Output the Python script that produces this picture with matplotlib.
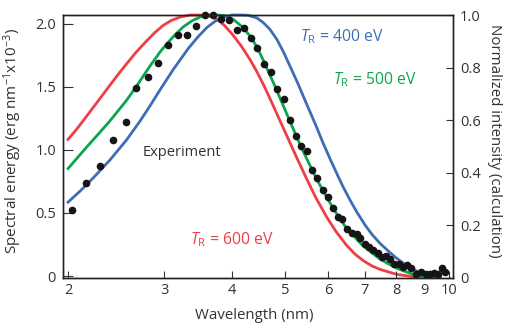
import matplotlib
matplotlib.use('Agg')
import matplotlib.pyplot as plt

# experiment (left axis, erg nm^-1 x10^-3)
exp_wl = [2.03, 2.16, 2.29, 2.42, 2.55, 2.67, 2.80, 2.92, 3.05, 3.18,
          3.31, 3.44, 3.57, 3.69, 3.81, 3.95, 4.08, 4.20, 4.33, 4.45,
          4.58, 4.71, 4.84, 4.97, 5.10, 5.23, 5.36, 5.48, 5.60, 5.73,
          5.86, 5.99, 6.12, 6.25, 6.37, 6.51, 6.65, 6.77, 6.88, 7.02,
          7.14, 7.26, 7.40, 7.54, 7.67, 7.80, 7.94, 8.09, 8.23, 8.39,
          8.52, 8.70, 8.89, 9.07, 9.23, 9.40, 9.54, 9.70, 9.84]
exp_val = [0.52, 0.74, 0.87, 1.08, 1.22, 1.49, 1.58, 1.69, 1.83, 1.91,
           1.91, 1.98, 2.07, 2.07, 2.04, 2.03, 1.95, 1.97, 1.89, 1.81,
           1.68, 1.62, 1.48, 1.40, 1.24, 1.11, 1.03, 0.99, 0.84, 0.78,
           0.68, 0.63, 0.54, 0.47, 0.455, 0.37, 0.34, 0.33, 0.30, 0.25,
           0.23, 0.21, 0.185, 0.15, 0.16, 0.135, 0.093, 0.098, 0.074, 0.09,
           0.061, 0.016, 0.032, 0.013, 0.018, 0.026, 0.013, 0.061, 0.034]

# calculations (right axis, normalized)
wl_400 = [2.00, 2.104, 2.226, 2.388, 2.563, 2.711, 2.828, 2.950, 3.121, 3.325,
          3.464, 3.594, 3.722, 3.855, 3.999, 4.136, 4.279, 4.439, 4.558, 4.695,
          4.836, 4.967, 5.109, 5.292, 5.466, 5.678, 5.881, 6.050, 6.232, 6.391,
          6.583, 6.772, 7.014, 7.224, 7.472, 7.795, 8.019, 8.305, 8.601, 8.924,
          9.231, 9.629]
calc_400 = [0.287, 0.329, 0.380, 0.448, 0.525, 0.596, 0.654, 0.715, 0.793, 0.873,
            0.917, 0.952, 0.976, 0.992, 1.0, 1.0, 0.999, 0.989, 0.972, 0.945,
            0.906, 0.860, 0.805, 0.735, 0.666, 0.587, 0.510, 0.452, 0.394, 0.346,
            0.295, 0.250, 0.200, 0.164, 0.130, 0.095, 0.073, 0.050, 0.031, 0.015,
            0.005, 0.0]

wl_500 = [2.00, 2.078, 2.164, 2.270, 2.388, 2.563, 2.673, 2.828, 2.950, 3.035,
          3.143, 3.255, 3.377, 3.493, 3.613, 3.749, 3.882, 4.021, 4.171, 4.315,
          4.444, 4.578, 4.795, 5.073, 5.368, 5.719, 6.135, 6.492, 6.964, 7.472,
          8.019, 8.601, 9.231, 9.629]
calc_500 = [0.415, 0.455, 0.497, 0.545, 0.597, 0.676, 0.730, 0.806, 0.859, 0.890,
            0.925, 0.955, 0.978, 0.992, 1.0, 1.0, 0.998, 0.983, 0.956, 0.920,
            0.878, 0.821, 0.728, 0.609, 0.492, 0.374, 0.262, 0.186, 0.119, 0.070,
            0.035, 0.012, 0.002, 0.0]

wl_600 = [2.00, 2.078, 2.164, 2.270, 2.388, 2.470, 2.563, 2.666, 2.792, 2.889,
          2.988, 3.091, 3.210, 3.349, 3.493, 3.613, 3.749, 3.882, 4.021, 4.154,
          4.315, 4.439, 4.578, 4.729, 4.898, 5.073, 5.263, 5.483, 5.702, 5.966,
          6.205, 6.492, 6.724, 6.964, 7.224, 7.472, 8.019, 8.601, 9.629]
calc_600 = [0.526, 0.567, 0.615, 0.672, 0.733, 0.773, 0.815, 0.858, 0.903, 0.934,
            0.960, 0.979, 0.992, 1.0, 1.0, 0.998, 0.985, 0.958, 0.922, 0.883,
            0.830, 0.785, 0.730, 0.667, 0.597, 0.527, 0.454, 0.375, 0.303, 0.230,
            0.175, 0.122, 0.089, 0.064, 0.044, 0.031, 0.012, 0.003, 0.0]

x_ticks = [2, 3, 4, 5, 6, 7, 8, 9, 10]
left_ticks = [0, 0.5, 1.0, 1.5, 2.0]
left_labels = ['0', '0.5', '1.0', '1.5', '2.0']
right_ticks = [0, 0.2, 0.4, 0.6, 0.8, 1.0]
right_labels = ['0', '0.2', '0.4', '0.6', '0.8', '1.0']

RED = '#ee3e46'
GREEN = '#0aa64f'
BLUE = '#3f6db4'

plt.rcParams['font.family'] = ['Open Sans', 'DejaVu Sans']
plt.rcParams['mathtext.fontset'] = 'custom'
plt.rcParams['mathtext.rm'] = 'Open Sans'
plt.rcParams['mathtext.it'] = 'Open Sans:italic'
plt.rcParams['font.size'] = 10
plt.rcParams['text.color'] = '#333333'
plt.rcParams['axes.labelcolor'] = '#333333'
plt.rcParams['xtick.color'] = '#333333'
plt.rcParams['ytick.color'] = '#333333'

fig = plt.figure(figsize=(5.11, 3.30), dpi=100)
ax = fig.add_axes([0.1233, 0.159, 0.7632, 0.7955])
ax2 = ax.twinx()

ax2.plot(wl_600, calc_600, color=RED, lw=2, clip_on=False, solid_joinstyle='round')
ax2.plot(wl_500, calc_500, color=GREEN, lw=2, clip_on=False, solid_joinstyle='round')
ax2.plot(wl_400, calc_400, color=BLUE, lw=2, clip_on=False, solid_joinstyle='round')

ax.plot(exp_wl, exp_val, 'o', color='#151515', ms=5.5, mec='none', clip_on=False)
ax.set_zorder(ax2.get_zorder() + 1)
ax.patch.set_visible(False)

ax.set_xscale('log')
ax.set_xlim(1.958, 10.17)
ax.set_xticks(x_ticks)
ax.set_xticklabels([str(t) for t in x_ticks])
ax.xaxis.set_minor_locator(matplotlib.ticker.NullLocator())
ax.set_ylim(-0.012, 2.07)
ax.set_yticks(left_ticks)
ax.set_yticklabels(left_labels)
ax2.set_ylim(0, 1.0)
ax2.set_yticks(right_ticks)
ax2.set_yticklabels(right_labels)

for a in (ax, ax2):
    for s in a.spines.values():
        s.set_linewidth(1.0)
        s.set_color('#222222')
ax.tick_params(axis='x', direction='in', length=5, pad=4, labelsize=10.5)
ax.tick_params(axis='y', direction='in', length=7, pad=5, labelsize=10.5)
ax2.tick_params(axis='y', direction='in', length=5, pad=5, labelsize=10.5)

ax.set_xlabel('Wavelength (nm)', fontsize=10.8)
ax.xaxis.set_label_coords(0.49, -0.117)
ax.set_ylabel('Spectral energy (erg nm$^{-1}$x10$^{-3}$)', fontsize=11)
ax.yaxis.set_label_coords(-0.10, 0.52)
ax2.set_ylabel('Normalized intensity (calculation)', fontsize=10.8, rotation=270)
ax2.yaxis.set_label_coords(1.125, 0.52)

ax.text(0.608, 0.916, r'$\mathit{T}_{\mathrm{R}}$ = 400 eV', color=BLUE,
        transform=ax.transAxes, fontsize=11.3, va='center')
ax.text(0.692, 0.752, r'$\mathit{T}_{\mathrm{R}}$ = 500 eV', color=GREEN,
        transform=ax.transAxes, fontsize=11.3, va='center')
ax.text(0.326, 0.143, r'$\mathit{T}_{\mathrm{R}}$ = 600 eV', color=RED,
        transform=ax.transAxes, fontsize=11.3, va='center')
ax.text(0.203, 0.478, 'Experiment', color='#333333',
        transform=ax.transAxes, fontsize=10.5, va='center')

fig.savefig('out.png', dpi=100)
